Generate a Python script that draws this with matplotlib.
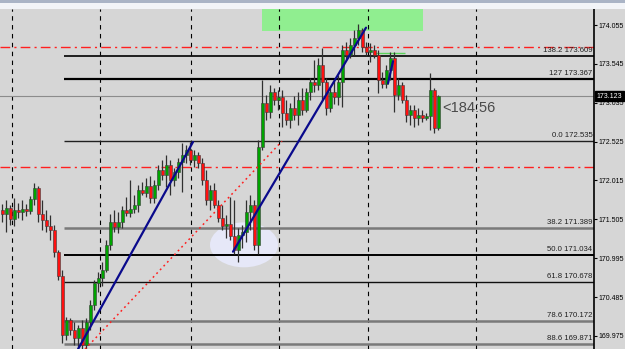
import matplotlib
matplotlib.use('Agg')
import matplotlib.pyplot as plt
from matplotlib.patches import Rectangle, Ellipse
from matplotlib.transforms import blended_transform_factory
import numpy as np

# ---------------- data ----------------
opens = [171.63, 171.57, 171.65, 171.51, 171.63, 171.60, 171.64, 171.61, 171.77, 171.92,
         171.57, 171.50, 171.42, 171.36, 171.08, 170.76, 169.99, 170.18, 170.05, 169.95,
         170.08, 169.86, 170.16, 170.38, 170.67, 170.74, 170.84, 171.17, 171.47, 171.40,
         171.47, 171.63, 171.59, 171.64, 171.69, 171.89, 171.85, 171.94, 171.78, 171.96,
         172.15, 172.09, 172.22, 172.02, 172.13, 172.26, 172.35, 172.41, 172.28, 172.35,
         172.24, 172.02, 171.76, 171.89, 171.69, 171.52, 171.42, 171.44, 171.29, 171.10,
         171.30, 171.34, 171.60, 171.69, 171.17, 172.45, 173.03, 172.91, 173.18, 173.07,
         173.11, 172.90, 172.81, 172.97, 172.87, 173.07, 172.94, 173.18, 173.31, 173.27,
         173.53, 173.31, 172.97, 173.18, 173.11, 173.31, 173.73, 173.66, 173.79, 173.88,
         173.99, 173.77, 173.70, 173.73, 173.66, 173.33, 173.28, 173.46, 173.62, 173.14,
         173.27, 173.07, 172.87, 172.94, 172.83, 172.87, 172.83, 172.86, 173.20, 172.70]
highs = [171.71, 171.76, 171.69, 171.78, 171.72, 171.76, 171.71, 171.81, 171.98, 171.94,
         171.76, 171.63, 171.56, 171.43, 171.10, 170.84, 170.22, 170.21, 170.16, 170.12,
         170.18, 170.21, 170.45, 170.71, 170.81, 170.94, 171.23, 171.57, 171.63, 171.60,
         171.68, 171.80, 172.02, 171.82, 171.96, 171.99, 172.05, 172.07, 172.02, 172.22,
         172.28, 172.35, 172.28, 172.18, 172.31, 172.51, 172.48, 172.52, 172.41, 172.39,
         172.31, 172.15, 171.96, 171.98, 171.76, 171.69, 171.56, 171.80, 171.76, 171.39,
         171.43, 171.76, 171.82, 171.76, 172.55, 173.33, 173.14, 173.27, 173.23, 173.20,
         173.20, 173.07, 173.03, 173.12, 173.18, 173.23, 173.23, 173.36, 173.60, 173.62,
         173.75, 173.36, 173.23, 173.33, 173.40, 173.79, 173.83, 173.88, 173.99, 174.07,
         174.02, 173.83, 173.82, 173.79, 173.73, 173.44, 173.53, 173.70, 173.70, 173.36,
         173.31, 173.14, 173.00, 173.00, 172.97, 172.94, 172.90, 173.42, 173.23, 173.14]
lows = [171.47, 171.34, 171.43, 171.42, 171.52, 171.50, 171.55, 171.57, 171.69, 171.47,
        171.36, 171.34, 171.23, 171.01, 170.71, 169.88, 169.92, 169.99, 169.86, 169.79,
        169.76, 169.76, 170.05, 170.31, 170.55, 170.63, 170.81, 171.10, 171.34, 171.33,
        171.39, 171.55, 171.53, 171.59, 171.60, 171.82, 171.80, 171.72, 171.72, 171.89,
        172.02, 171.93, 171.82, 171.94, 172.05, 171.86, 172.24, 172.22, 172.19, 172.18,
        171.96, 171.69, 171.63, 171.65, 171.47, 171.36, 171.26, 171.23, 171.05, 170.94,
        171.13, 171.21, 171.36, 171.10, 171.05, 172.41, 172.81, 172.83, 173.00, 172.94,
        172.72, 172.74, 172.70, 172.81, 172.74, 172.87, 172.91, 173.07, 173.18, 173.20,
        173.07, 172.87, 172.91, 173.02, 173.00, 172.98, 173.60, 173.62, 173.66, 173.79,
        173.70, 173.65, 173.57, 173.62, 173.16, 173.23, 173.23, 173.33, 172.91, 173.07,
        173.03, 172.78, 172.74, 172.72, 172.74, 172.78, 172.81, 172.68, 172.64, 172.68]
closes = [171.57, 171.65, 171.51, 171.63, 171.60, 171.64, 171.61, 171.77, 171.92, 171.57,
          171.50, 171.42, 171.36, 171.08, 170.76, 169.99, 170.18, 170.05, 169.95, 170.08,
          169.86, 170.16, 170.38, 170.67, 170.74, 170.84, 171.17, 171.47, 171.40, 171.47,
          171.63, 171.59, 171.64, 171.69, 171.89, 171.85, 171.94, 171.78, 171.96, 172.15,
          172.09, 172.22, 172.02, 172.13, 172.26, 172.35, 172.41, 172.28, 172.35, 172.24,
          172.02, 171.76, 171.89, 171.69, 171.52, 171.42, 171.44, 171.29, 171.10, 171.30,
          171.34, 171.60, 171.69, 171.17, 172.45, 173.03, 172.91, 173.18, 173.07, 173.11,
          172.90, 172.81, 172.97, 172.87, 173.07, 172.94, 173.18, 173.31, 173.27, 173.53,
          173.31, 172.97, 173.18, 173.11, 173.31, 173.73, 173.66, 173.79, 173.88, 173.99,
          173.77, 173.70, 173.73, 173.66, 173.33, 173.28, 173.46, 173.62, 173.14, 173.27,
          173.07, 172.87, 172.94, 172.83, 172.87, 172.83, 172.86, 173.20, 172.70, 173.12]

fib_levels = [173.65, 173.34, 172.535, 171.389, 171.034, 170.678, 170.172, 169.871]
fib_labels = ["138.2 173.609", "127 173.367", "0.0 172.535", "38.2 171.389",
              "50.0 171.034", "61.8 170.678", "78.6 170.172", "88.6 169.871"]
fib_start_bar = 15.5
red_levels = [173.76, 172.19]
price_ticks = [174.055, 173.545, 173.035, 172.525, 172.015, 171.505, 170.995, 170.485, 169.975]
current_price = 173.123
grid_bars = [2.4, 24.5, 47.2, 69.25, 91.5, 118.4]
blue_trends = [((19.0, 47.75), (169.80, 172.52)),
               ((57.75, 91.0), (171.08, 174.02)),
               ((96.5, 97.75), (173.29, 173.58))]
red_trend = ((20.75, 70.0), (169.80, 172.53))
zone_bars = (65.0, 105.25)
zone_prices = (173.976, 174.30)
ellipse_center = (60.5, 171.17)
ellipse_size = (17.0, 0.59)
green_mark = (92.75, 100.75, 173.69)
timer_text = "<184:56"
timer_pos = (110.0, 172.97)

# ---------------- figure ----------------
BG = '#d6d6d6'
FONT = ['Liberation Sans', 'DejaVu Sans']
LBL = 5.0
fig = plt.figure(figsize=(6.25, 3.49), dpi=100)
fig.patch.set_facecolor(BG)
ax = fig.add_axes([0, 0, 594 / 625, 340 / 349])
ax.set_facecolor(BG)
ax.set_xlim(-0.5, 148)
ax.set_ylim(169.803, 174.265)

# top window strip
fig.add_artist(Rectangle((0, 1 - 9 / 349), 1, 9 / 349, transform=fig.transFigure,
                         fc='#f2f4f8', ec='none', zorder=10))
fig.add_artist(Rectangle((0, 1 - 3 / 349), 1, 3 / 349, transform=fig.transFigure,
                         fc='#aab4c6', ec='none', zorder=11))

# green zone
ax.add_patch(Rectangle((zone_bars[0], zone_prices[0]), zone_bars[1] - zone_bars[0],
                       zone_prices[1] - zone_prices[0], fc='#90ee90', ec='none', zorder=0.5))

# grid
for g in grid_bars:
    ax.axvline(g, color='black', lw=0.8, linestyle=(0, (4, 4)), zorder=1)

# ellipse
ax.add_patch(Ellipse(ellipse_center, ellipse_size[0], ellipse_size[1],
                     fc='#e6e8f8', ec='none', zorder=1.2))

# current price line
ax.axhline(current_price, color='#8c8c8c', lw=0.8, zorder=1.5)

# red dash-dot horizontal lines
for lv in red_levels:
    ax.axhline(lv, color='#ff2020', lw=1.0, linestyle=(0, (7, 3, 1.5, 3)), zorder=1.6)

# fibonacci lines
fib_colors = ['#101010', '#000000', '#202020', '#7a7a7a', '#000000', '#101010', '#7a7a7a', '#7a7a7a']
fib_widths = [1.3, 1.6, 1.0, 1.8, 1.4, 1.0, 1.8, 1.8]
for lv, lab, c, w in zip(fib_levels, fib_labels, fib_colors, fib_widths):
    ax.hlines(lv, fib_start_bar, 148, color=c, lw=w, zorder=1.8)
    ax.annotate(lab, xy=(147.6, lv), xytext=(0, 1.5), textcoords='offset points',
                ha='right', va='bottom', fontsize=5.6, family=FONT, color='#202020', zorder=5)

# small green mark line
ax.hlines(green_mark[2], green_mark[0], green_mark[1], color='#5ad25a', lw=1.0, zorder=2)

# candles
idx = np.arange(len(opens))
o = np.array(opens); h = np.array(highs); l = np.array(lows); c = np.array(closes)
ax.vlines(idx, l, h, color='#303030', lw=0.9, zorder=3)
bottoms = np.minimum(o, c)
heights = np.maximum(np.abs(c - o), 0.012)
cols = np.where(c >= o, '#00a400', '#ff1010')
ax.bar(idx, heights, bottom=bottoms, width=0.75, color=cols, edgecolor='#3a3a3a',
       linewidth=0.4, zorder=3.5)

# trend lines
for xs, ys in blue_trends:
    ax.plot(xs, ys, color='#0a0a8c', lw=1.6, zorder=4, solid_capstyle='round')
ax.plot(red_trend[0], red_trend[1], color='#ff2020', lw=1.1, linestyle=(0, (1.2, 2.2)), zorder=4)

# timer text
ax.text(timer_pos[0], timer_pos[1], timer_text, fontsize=10.5, family=FONT,
        color='#4a4a4a', va='center', ha='left', zorder=5)

# axes / ticks
for s in ['left', 'top', 'bottom']:
    ax.spines[s].set_visible(False)
ax.spines['right'].set_color('black')
ax.spines['right'].set_linewidth(1.2)
ax.set_xticks([])
ax.yaxis.tick_right()
ax.set_yticks(price_ticks)
ax.set_yticklabels([f'{t:.3f}' for t in price_ticks], family=FONT, fontsize=LBL)
ax.tick_params(axis='y', direction='out', length=2.5, width=0.8, pad=0.8, colors='black')

# current price box
tr = blended_transform_factory(ax.transAxes, ax.transData)
ax.text(1.0 + 2.5 / 594, current_price, f'{current_price:.3f}', transform=tr,
        fontsize=LBL, family=FONT, color='white', va='center', ha='left', zorder=6,
        bbox=dict(boxstyle='square,pad=0.25', fc='black', ec='black'), clip_on=False)

fig.savefig('out.png', dpi=100, facecolor=BG)
